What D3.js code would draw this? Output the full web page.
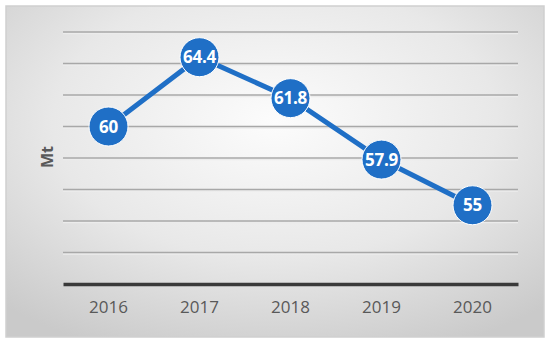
<!DOCTYPE html>
<html>
<head>
<meta charset="utf-8">
<script src="https://cdn.jsdelivr.net/npm/d3@7"></script>
<style>
  body { margin: 0; background: #fff; }
</style>
</head>
<body>
<script>
var years = ["2016", "2017", "2018", "2019", "2020"];
var values = [60, 64.4, 61.8, 57.9, 55];
var gridTicks = [52, 54, 56, 58, 60, 62, 64, 66];

var width = 550, height = 344;
var plot = {left: 63, right: 518, top: 32, bottom: 284};

var svg = d3.select("body").append("svg")
    .attr("width", width)
    .attr("height", height);

var defs = svg.append("defs");
var grad = defs.append("radialGradient")
    .attr("id", "bg")
    .attr("cx", "50%").attr("cy", "35%").attr("r", "75%");
grad.append("stop").attr("offset", "0%").attr("stop-color", "#fcfcfc");
grad.append("stop").attr("offset", "55%").attr("stop-color", "#e8e8e8");
grad.append("stop").attr("offset", "100%").attr("stop-color", "#cacaca");

svg.append("rect")
    .attr("x", 6).attr("y", 6)
    .attr("width", 538).attr("height", 331)
    .attr("fill", "url(#bg)")
    .attr("stroke", "#cfcfcf")
    .attr("stroke-width", 1.5);

var x = d3.scaleBand().domain(years).range([plot.left, plot.right]);
var y = d3.scaleLinear().domain([50, 66]).range([plot.bottom, plot.top]);

// gridlines with a soft shadow
var grid = svg.append("g");
grid.selectAll("line.sh")
    .data(gridTicks)
    .enter().append("line")
    .attr("class", "sh")
    .attr("x1", plot.left).attr("x2", plot.right)
    .attr("y1", function(d) { return y(d) + 1.5; })
    .attr("y2", function(d) { return y(d) + 1.5; })
    .attr("stroke", "#ececec")
    .attr("stroke-width", 1.5);
grid.selectAll("line.gl")
    .data(gridTicks)
    .enter().append("line")
    .attr("class", "gl")
    .attr("x1", plot.left).attr("x2", plot.right)
    .attr("y1", function(d) { return y(d); })
    .attr("y2", function(d) { return y(d); })
    .attr("stroke", "#a8a8a8")
    .attr("stroke-width", 1.5);

// x axis
var xAxis = svg.append("g")
    .attr("transform", "translate(0," + plot.bottom + ")")
    .call(d3.axisBottom(x).tickSize(0).tickPadding(17));
xAxis.select(".domain")
    .attr("stroke", "#3a3a3a")
    .attr("stroke-width", 3.5);
xAxis.selectAll("text")
    .attr("fill", "#595959")
    .style("font-family", "'Open Sans', sans-serif")
    .style("font-size", "17px");

svg.append("text")
    .attr("transform", "translate(53,157) rotate(-90)")
    .attr("text-anchor", "middle")
    .attr("fill", "#595959")
    .style("font-family", "'Open Sans', sans-serif")
    .style("font-weight", "bold")
    .style("font-size", "16px")
    .text("Mt");

var cx = function(d, i) { return x(years[i]) + x.bandwidth() / 2; };

var line = d3.line()
    .x(function(d, i) { return cx(d, i); })
    .y(function(d) { return y(d); });

svg.append("path")
    .datum(values)
    .attr("d", line)
    .attr("fill", "none")
    .attr("stroke", "#1f6fc6")
    .attr("stroke-width", 5);

var pts = svg.selectAll("g.pt")
    .data(values)
    .enter().append("g")
    .attr("class", "pt")
    .attr("transform", function(d, i) {
        return "translate(" + cx(d, i) + "," + y(d) + ")";
    });
pts.append("circle")
    .attr("r", 19.5)
    .attr("fill", "#1f6fc6")
    .attr("stroke", "#ffffff")
    .attr("stroke-width", 1);
pts.append("text")
    .attr("text-anchor", "middle")
    .attr("dy", "0.36em")
    .attr("fill", "#ffffff")
    .style("font-family", "'Open Sans', sans-serif")
    .style("font-weight", "bold")
    .style("font-size", "17px")
    .style("letter-spacing", "-0.3px")
    .text(function(d) { return d; });
</script>
</body>
</html>
